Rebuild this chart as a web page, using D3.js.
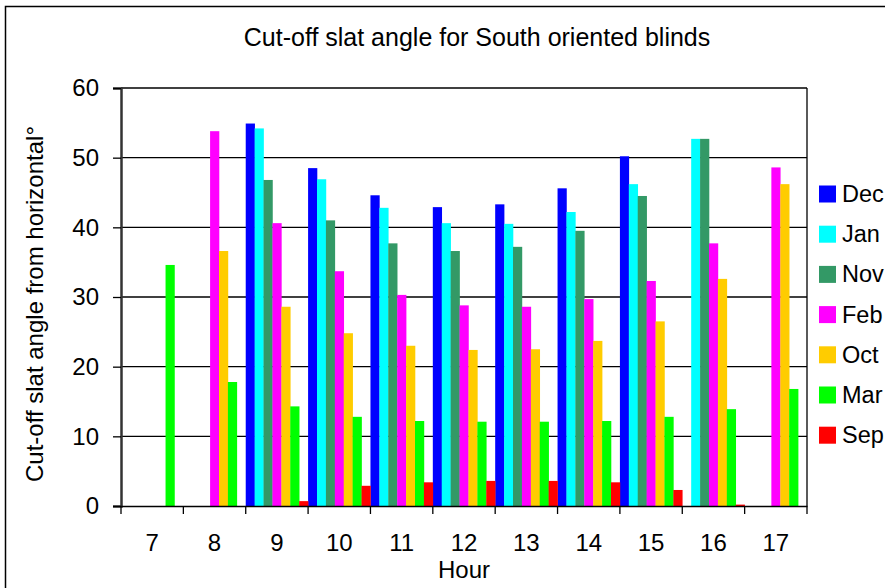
<!DOCTYPE html>
<html><head><meta charset="utf-8">
<script src="https://cdn.jsdelivr.net/npm/d3@7/dist/d3.min.js"></script>
<style>body{margin:0;background:#fff}svg{display:block;font-family:"Liberation Sans",Arial,sans-serif}</style>
</head><body><svg id="c" width="885" height="588"></svg>
<script>
const hours = ["7","8","9","10","11","12","13","14","15","16","17"];
const seriesNames = ["Dec","Jan","Nov","Feb","Oct","Mar","Sep"];
const seriesColors = ["#0000ff","#00ffff","#339966","#ff00ff","#ffcc00","#00ff00","#ff0000"];
const Dec = [0,0,54.9,48.5,44.6,42.9,43.3,45.6,50.2,0,0];
const Jan = [0,0,54.2,46.9,42.8,40.6,40.5,42.2,46.2,52.7,0];
const Nov = [0,0,46.8,41.0,37.7,36.6,37.2,39.5,44.5,52.7,0];
const Feb = [0,53.8,40.6,33.7,30.3,28.8,28.6,29.7,32.3,37.7,48.6];
const Oct = [0,36.6,28.6,24.8,23.0,22.4,22.5,23.7,26.5,32.6,46.2];
const Mar = [34.6,17.8,14.3,12.8,12.2,12.1,12.1,12.2,12.8,13.9,16.8];
const Sep = [0,0,0.7,2.9,3.4,3.6,3.6,3.4,2.3,0.2,0];
const yTicks = [0,10,20,30,40,50,60];
const seriesValues = [Dec,Jan,Nov,Feb,Oct,Mar,Sep];

const svg = d3.select("#c");
const L=121, R=807, T=88, B=506;
svg.append("rect").attr("x",5.5).attr("y",6.5).attr("width",900).attr("height",600)
  .attr("fill","none").attr("stroke","#000").attr("stroke-width",1.5);

const x = d3.scaleBand().domain(hours).range([L,R]).padding(0);
const xs = d3.scaleBand().domain(seriesNames).range([0,x.bandwidth()]).padding(0);
const y = d3.scaleLinear().domain([0,60]).range([B,T]);

// gridlines
svg.append("g").selectAll("line").data(yTicks.filter(d=>d>0)).join("line")
  .attr("x1",L).attr("x2",R).attr("y1",d=>y(d)).attr("y2",d=>y(d))
  .attr("stroke","#000").attr("stroke-width",1.3);
svg.append("line").attr("x1",R).attr("x2",R).attr("y1",T).attr("y2",B).attr("stroke","#000").attr("stroke-width",1.3);

// bars
const g = svg.append("g");
seriesNames.forEach((s,i)=>{
  g.append("g").attr("fill",seriesColors[i]).selectAll("rect")
    .data(seriesValues[i].map((v,j)=>({h:hours[j],v})).filter(d=>d.v>0)).join("rect")
    .attr("x",d=>x(d.h)+xs(s)).attr("width",xs.bandwidth()+0.3)
    .attr("y",d=>y(d.v)).attr("height",d=>B-y(d.v));
});

// y axis
const ya = svg.append("g").attr("transform",`translate(${L},0)`)
  .call(d3.axisLeft(y).tickValues(yTicks).tickSize(8).tickPadding(14));
ya.select(".domain").attr("stroke","#333").attr("stroke-width",2.5);
ya.selectAll(".tick line").attr("stroke","#000").attr("stroke-width",1.3);
ya.selectAll("text").attr("font-size",24).attr("fill","#000").attr("font-family","Liberation Sans, Arial, sans-serif");

// x axis
const xa = svg.append("g").attr("transform",`translate(0,${B})`)
  .call(d3.axisBottom(x).tickSize(0).tickPadding(28));
xa.select(".domain").attr("stroke","#000").attr("stroke-width",1.6);
xa.selectAll("text").attr("font-size",24).attr("fill","#000").attr("font-family","Liberation Sans, Arial, sans-serif");
svg.append("g").selectAll("line").data(d3.range(hours.length+1)).join("line")
  .attr("x1",i=>L+i*x.step()).attr("x2",i=>L+i*x.step()).attr("y1",B).attr("y2",B+8)
  .attr("stroke","#000").attr("stroke-width",1.3);

// titles
svg.append("text").attr("x",477).attr("y",46).attr("text-anchor","middle").attr("font-size",25).text("Cut-off slat angle for South oriented blinds");
svg.append("text").attr("x",464).attr("y",578).attr("text-anchor","middle").attr("font-size",24).text("Hour");
svg.append("text").attr("transform","translate(43,304) rotate(-90)").attr("text-anchor","middle").attr("font-size",24).text("Cut-off slat angle from horizontal°");

// legend
const lg = svg.append("g");
seriesNames.forEach((s,i)=>{
  const cy = 194 + i*40.2;
  lg.append("rect").attr("x",819).attr("y",cy-8.5).attr("width",17).attr("height",17).attr("fill",seriesColors[i]);
  lg.append("text").attr("x",842).attr("y",cy+8).attr("font-size",23.5).text(s);
});
</script></body></html>
